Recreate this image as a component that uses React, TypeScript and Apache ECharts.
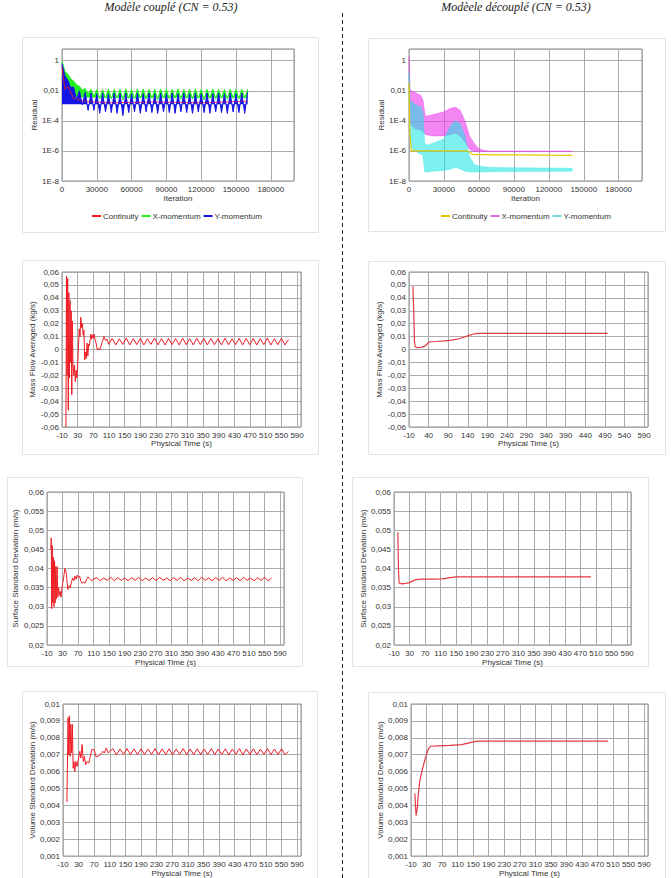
import React, { useEffect, useRef } from "react";
import * as echarts from "echarts";

const W = 671;
const H = 878;

const leftTitle = "Modèle couplé (CN = 0.53)";
const rightTitle = "Modèele découplé (CN = 0.53)";
const legendNames = ["Continuity", "X-momentum", "Y-momentum"];
const residualTickLabels: Record<string, string> = { "-8": "1E-8", "-6": "1E-6", "-4": "1E-4", "-2": "0,01", "0": "1" };

// ---------- Residuals, coupled model (log10 of residual) ----------
const coupledIter = [0, 2500, 5000, 7500, 10000, 12500, 15000, 17500, 20000, 22500, 25000, 27500, 30000, 32500, 35000, 37500, 40000, 42500, 45000, 47500, 50000, 52500, 55000, 57500, 60000, 62500, 65000, 67500, 70000, 72500, 75000, 77500, 80000, 82500, 85000, 87500, 90000, 92500, 95000, 97500, 100000, 102500, 105000, 107500, 110000, 112500, 115000, 117500, 120000, 122500, 125000, 127500, 130000, 132500, 135000, 137500, 140000, 142500, 145000, 147500, 150000, 152500, 155000, 157500, 160000];
const coupledXLog = [-0.05, -0.7, -0.9, -1.2, -1.35, -1.6, -1.7, -1.95, -1.85, -2.2, -1.9, -2.4,
  -1.9, -2.55, -1.92, -2.5, -1.88, -2.55, -1.9, -2.5, -1.9, -2.6,
  -1.87, -2.5, -1.92, -2.55, -1.9, -2.5, -1.88, -2.55, -1.9, -2.5,
  -1.9, -2.6, -1.88, -2.5, -1.9, -2.55, -1.9, -2.5, -1.87, -2.55,
  -1.9, -2.5, -1.9, -2.55, -1.88, -2.5, -1.9, -2.6, -1.9, -2.5,
  -1.88, -2.55, -1.9, -2.5, -1.9, -2.55, -1.88, -2.5, -1.9, -2.55,
  -1.9, -2.5, -1.9];
const coupledYLog = [-0.2, -1.0, -1.3, -1.8, -1.75, -2.6, -2.0, -2.95, -2.1, -3.3, -2.15, -3.3,
  -2.2, -3.5, -2.15, -3.4, -2.2, -3.45, -2.15, -3.5, -2.2, -3.65,
  -2.15, -3.45, -2.2, -3.4, -2.15, -3.5, -2.2, -3.4, -2.15, -3.45,
  -2.2, -3.5, -2.15, -3.4, -2.2, -3.45, -2.15, -3.5, -2.2, -3.4,
  -2.15, -3.45, -2.2, -3.5, -2.15, -3.4, -2.2, -3.45, -2.15, -3.5,
  -2.2, -3.4, -2.15, -3.45, -2.2, -3.5, -2.15, -3.4, -2.2, -3.45,
  -2.15, -3.5, -2.1];
const coupledCIter = [0, 2500, 5000, 10000, 20000, 40000, 80000, 120000, 160000];
const coupledCLog = [-0.4, -1.9, -1.7, -2.5, -2.7, -2.8, -2.75, -2.8, -2.7];

// ---------- Residuals, decoupled model (log10 of residual envelopes) ----------
const decCIter = [0, 800, 2000, 12000, 30000, 50000, 55000, 140000];
const decCLog = [-1.5, -5.0, -6.0, -6.0, -6.0, -6.0, -6.25, -6.3];
const decXIter = [0, 1000, 2000, 5000, 10000, 12000, 14000, 20000, 30000, 36000, 40000, 44000, 48000, 52000, 56000, 60000, 64000, 68000, 140000];
const decXUpperLog = [0.3, -1.9, -2.0, -2.1, -2.3, -2.6, -3.7, -3.6, -3.4, -3.15, -3.1, -3.3, -4.0, -5.0, -5.5, -5.85, -5.95, -6.0, -6.0];
const decXLowerLog = [0.0, -4.0, -4.3, -4.5, -4.6, -4.7, -4.9, -5.0, -5.0, -4.9, -4.8, -5.0, -5.4, -5.9, -6.05, -6.05, -6.05, -6.05, -6.05];
const decYIter = [0, 1000, 2000, 5000, 10000, 12000, 13500, 16000, 20000, 30000, 36000, 40000, 44000, 48000, 52000, 56000, 60000, 70000, 140000];
const decYUpperLog = [-0.8, -2.6, -2.7, -2.9, -3.1, -3.4, -5.5, -5.6, -5.5, -5.2, -4.3, -4.0, -4.2, -5.0, -6.4, -6.9, -7.0, -7.1, -7.15];
const decYLowerLog = [-1.5, -5.5, -5.8, -6.0, -6.2, -6.3, -7.4, -7.4, -7.35, -7.3, -7.2, -7.1, -7.2, -7.35, -7.4, -7.4, -7.4, -7.38, -7.35];

// ---------- Physical-time series, coupled model ----------
const cycleTimes = [118, 127, 136, 145, 154, 163, 172, 181, 190, 199, 208, 217, 226, 235, 244, 253, 262, 271, 280, 289, 298, 307, 316, 325, 334, 343, 352, 361, 370, 379, 388, 397, 406, 415, 424, 433, 442, 451, 460, 469, 478, 487, 496, 505, 514, 523, 532, 541, 550, 559, 568];

const massFlowCoupledEarly: [number, number][] = [[0, -0.06], [1.5, 0.057], [3, -0.02], [4.5, 0.055], [6, -0.047], [7.5, 0.044], [9, -0.022], [10.5, 0.038], [12, -0.01], [13.5, 0.03], [15, -0.035], [16.5, 0.022], [18, -0.012], [20, -0.02], [22, -0.012], [24, -0.025], [26, -0.016], [28, -0.022], [30, -0.012], [32, 0.002], [34, 0.016], [36, 0.01], [38, 0.025], [40, 0.017], [42, 0.02], [44, 0.011], [46, 0.015], [48, -0.008], [50, -0.002], [52, -0.007], [54, 0.005], [56, -0.005], [58, 0.004], [60, 0.003], [62, 0.008], [64, 0.012], [66, 0.008], [68, 0.011], [70, 0.009], [72, 0.012], [74, 0.008], [77, 0.005], [80, 0.0], [83, 0.001], [86, -0.0005], [89, 0.002], [93, 0.006], [97, 0.01], [101, 0.007], [105, 0.008], [109, 0.004]];
const massFlowCoupledCycle = [
  0.0085, 0.0035, 0.0082, 0.0040, 0.0088, 0.0035, 0.0084, 0.0038, 0.0087, 0.0035,
  0.0083, 0.0040, 0.0088, 0.0036, 0.0085, 0.0035, 0.0086, 0.0038, 0.0084, 0.0035,
  0.0088, 0.0037, 0.0083, 0.0035, 0.0087, 0.0038, 0.0085, 0.0035, 0.0086, 0.0037,
  0.0084, 0.0035, 0.0088, 0.0036, 0.0083, 0.0038, 0.0087, 0.0035, 0.0085, 0.0037,
  0.0086, 0.0035, 0.0084, 0.0038, 0.0088, 0.0035, 0.0083, 0.0037, 0.0087, 0.0035,
  0.0078];

const surfaceCoupledEarly: [number, number][] = [[0, 0.045], [1, 0.048], [2, 0.0295], [3.5, 0.046], [5, 0.031], [6.5, 0.043], [8, 0.03], [9.5, 0.042], [11, 0.031], [12.5, 0.0405], [14, 0.032], [16, 0.0405], [18, 0.0325], [20, 0.035], [22, 0.033], [24, 0.034], [26, 0.0325], [28, 0.0345], [30, 0.036], [32, 0.037], [34, 0.0385], [36, 0.04], [38, 0.0395], [40, 0.0385], [42, 0.036], [44, 0.0345], [47, 0.0355], [50, 0.035], [53, 0.0365], [56, 0.0375], [59, 0.0368], [62, 0.038], [65, 0.0372], [68, 0.0383], [71, 0.0376], [74, 0.038], [77, 0.0368], [80, 0.0362], [84, 0.0364], [88, 0.0362], [92, 0.0372], [96, 0.0378], [100, 0.0372], [104, 0.0368], [109, 0.0372]];
const surfaceCoupledCycle = [
  0.0376, 0.0368, 0.0375, 0.0369, 0.0377, 0.0368, 0.0376, 0.0369, 0.0375, 0.0368,
  0.0376, 0.0369, 0.0377, 0.0368, 0.0375, 0.0369, 0.0376, 0.0368, 0.0377, 0.0369,
  0.0375, 0.0368, 0.0376, 0.0369, 0.0377, 0.0368, 0.0375, 0.0369, 0.0376, 0.0368,
  0.0377, 0.0369, 0.0375, 0.0368, 0.0376, 0.0369, 0.0377, 0.0368, 0.0375, 0.0369,
  0.0376, 0.0368, 0.0377, 0.0369, 0.0375, 0.0368, 0.0376, 0.0369, 0.0377, 0.0368,
  0.0375];

const volumeCoupledEarly: [number, number][] = [[0, 0.0042], [3, 0.0092], [4.5, 0.007], [6.5, 0.0093], [8, 0.0069], [10, 0.0088], [12, 0.0071], [14, 0.0088], [16, 0.0062], [18, 0.0066], [20, 0.006], [23, 0.0066], [26, 0.0063], [30, 0.0068], [33, 0.0072], [36, 0.0068], [39, 0.0076], [42, 0.0066], [45, 0.0069], [48, 0.0064], [52, 0.0066], [56, 0.0065], [60, 0.0069], [64, 0.0073], [70, 0.0073], [74, 0.0069], [80, 0.0069], [86, 0.007], [92, 0.0072], [96, 0.0071], [101, 0.0074], [106, 0.0071], [110, 0.0072]];
const volumeCoupledCycle = [
  0.00735, 0.00700, 0.00733, 0.00702, 0.00736, 0.00700, 0.00734, 0.00701, 0.00735, 0.00700,
  0.00733, 0.00702, 0.00736, 0.00700, 0.00734, 0.00701, 0.00735, 0.00700, 0.00733, 0.00702,
  0.00736, 0.00700, 0.00734, 0.00701, 0.00735, 0.00700, 0.00733, 0.00702, 0.00736, 0.00700,
  0.00734, 0.00701, 0.00735, 0.00700, 0.00733, 0.00702, 0.00736, 0.00700, 0.00734, 0.00701,
  0.00735, 0.00700, 0.00733, 0.00702, 0.00736, 0.00700, 0.00734, 0.00701, 0.00735, 0.00700,
  0.00720];

// ---------- Physical-time series, decoupled model ----------
const massFlowDecoupled: [number, number][] = [[0, 0.049], [2, 0.03], [4, 0.006], [6, 0.002], [10, 0.0015], [20, 0.0017], [28, 0.0022], [34, 0.0035], [40, 0.0055], [44, 0.006], [60, 0.0062], [80, 0.0067], [100, 0.0073], [120, 0.0085], [140, 0.0105], [155, 0.012], [165, 0.0125], [200, 0.0125], [300, 0.0125], [400, 0.0125], [497, 0.0125]];
const surfaceDecoupled: [number, number][] = [[0, 0.0495], [1.5, 0.04], [3, 0.0362], [10, 0.036], [20, 0.0361], [30, 0.0363], [38, 0.0367], [46, 0.0371], [60, 0.0372], [90, 0.0372], [115, 0.0373], [135, 0.0376], [150, 0.0378], [200, 0.0378], [300, 0.0378], [400, 0.0378], [497, 0.0378]];
const volumeDecoupled: [number, number][] = [[0, 0.0047], [1.5, 0.004], [3, 0.0034], [6, 0.0038], [9, 0.0047], [13, 0.0055], [20, 0.0062], [27, 0.0068], [34, 0.0073], [40, 0.0075], [60, 0.00752], [90, 0.00755], [120, 0.0076], [140, 0.0077], [160, 0.0078], [200, 0.0078], [300, 0.0078], [400, 0.0078], [497, 0.0078]];

// ---------------------------------------------------------------
const FONT = 'Arial, "Liberation Sans", sans-serif';
const TXT = "#333";
const GRIDLINE = "#ababab";
const TIME_SHIFT = 10; // time axis starts at -10 s
const RED_L = "#ee1c24";
const RED_R = "#e23a44";

const pairs = (xs: number[], ys: number[]) => xs.map((x, i) => [x, ys[i]]).filter((p) => p[1] !== undefined);
const timeSeries = (early: [number, number][], times: number[] = [], vals: number[] = []) =>
  [...early, ...times.map((t, i) => [t, vals[i]] as [number, number])].map(([t, v]) => [t + TIME_SHIFT, v]);
const decimalLabel = (v: number) => String(Number(v.toFixed(4))).replace(".", ",");

const labelStyle = { fontSize: 8, color: TXT, fontFamily: FONT };

function residualX(gridIndex: number) {
  return {
    type: "value", gridIndex, min: 0, max: 200000, interval: 30000,
    name: "Iteration", nameLocation: "middle", nameGap: 13, nameTextStyle: labelStyle,
    axisLine: { show: false }, axisTick: { show: false },
    splitLine: { show: true, lineStyle: { color: GRIDLINE, width: 1 } },
    axisLabel: { ...labelStyle, margin: 4, formatter: (v: number) => (v > 180000 ? "" : String(v)) },
  };
}
function timeX(gridIndex: number, interval: number, nameGap: number) {
  return {
    type: "value", gridIndex, min: 0, max: 610, interval,
    name: "Physical Time (s)", nameLocation: "middle", nameGap, nameTextStyle: labelStyle,
    axisLine: { show: false }, axisTick: { show: false },
    splitLine: { show: true, lineStyle: { color: GRIDLINE, width: 1 } },
    axisLabel: { ...labelStyle, margin: 4, formatter: (v: number) => (v > 600 ? "" : String(v - TIME_SHIFT)) },
  };
}
function residualY(gridIndex: number, nameGap: number) {
  return {
    type: "value", gridIndex, min: -8, max: 0.78, interval: 2,
    name: "Residual", nameLocation: "middle", nameGap, nameTextStyle: labelStyle,
    axisLine: { show: false }, axisTick: { show: false },
    splitLine: { show: true, lineStyle: { color: GRIDLINE, width: 1 } },
    axisLabel: { ...labelStyle, margin: 3, formatter: (v: number) => residualTickLabels[String(Math.round(v * 100) / 100)] ?? "" },
  };
}
function decimalY(gridIndex: number, name: string, min: number, max: number, interval: number, nameGap: number) {
  return {
    type: "value", gridIndex, min, max, interval,
    name, nameLocation: "middle", nameGap, nameTextStyle: labelStyle,
    axisLine: { show: false }, axisTick: { show: false },
    splitLine: { show: true, lineStyle: { color: GRIDLINE, width: 1 } },
    axisLabel: { ...labelStyle, margin: 3, formatter: decimalLabel },
  };
}

function lineSeries(name: string, idx: number, data: number[][], color: string, width: number, extra: any = {}) {
  return {
    type: "line", name, xAxisIndex: idx, yAxisIndex: idx, data,
    showSymbol: false, symbol: "none", silent: true,
    lineStyle: { color, width }, itemStyle: { color }, ...extra,
  };
}

// A residual band (between lower and upper envelopes), drawn as one polygon through the axes' scales.
function bandSeries(name: string, idx: number, iters: number[], lower: number[], upper: number[], color: string, fill: string) {
  return {
    type: "custom", name, xAxisIndex: idx, yAxisIndex: idx, silent: true,
    data: iters.map((x, i) => [x, lower[i], upper[i]]),
    encode: { x: 0, y: [1, 2] },
    itemStyle: { color },
    renderItem: (params: any, api: any) => {
      if (params.dataIndexInside !== 0) return null;
      const n = params.dataInsideLength;
      const top: number[][] = [];
      const bottom: number[][] = [];
      for (let j = 0; j < n; j++) {
        top.push(api.coord([api.value(0, j), api.value(2, j)]));
        bottom.push(api.coord([api.value(0, j), api.value(1, j)]));
      }
      return {
        type: "polygon",
        shape: { points: top.concat(bottom.reverse()) },
        style: { fill, stroke: fill, lineWidth: 0.6 },
      };
    },
  };
}

function buildOption(): any {
  const gridBox = (left: number, top: number, width: number, height: number) => ({
    left, top, width, height, show: true, backgroundColor: "#fff", borderColor: "#8c8c8c", borderWidth: 1,
  });
  const grids = [
    gridBox(62, 49, 232, 132),
    gridBox(409, 49, 233, 132),
    gridBox(62, 272, 239, 155),
    gridBox(409, 272, 239, 155),
    gridBox(47, 492, 237, 153),
    gridBox(394, 492, 237, 153),
    gridBox(63, 704, 238, 153),
    gridBox(411, 704, 237, 153),
  ];
  const xAxis = [
    residualX(0), residualX(1),
    timeX(2, 40, 12), timeX(3, 50, 12),
    timeX(4, 40, 13), timeX(5, 40, 13),
    timeX(6, 40, 12), timeX(7, 40, 12),
  ];
  const yAxis = [
    residualY(0, 21), residualY(1, 22),
    decimalY(2, "Mass Flow Averaged (kg/s)", -0.06, 0.06, 0.01, 21),
    decimalY(3, "Mass Flow Averaged (kg/s)", -0.06, 0.06, 0.01, 21),
    decimalY(4, "Surface Standard Deviation (m/s)", 0.02, 0.06, 0.005, 28),
    decimalY(5, "Surface Standard Deviation (m/s)", 0.02, 0.06, 0.005, 23),
    decimalY(6, "Volume Standard Deviation (m/s)", 0.001, 0.01, 0.001, 22),
    decimalY(7, "Volume Standard Deviation (m/s)", 0.001, 0.01, 0.001, 23),
  ];
  const decNames = legendNames.map((n) => n + " (découplé)");
  const series = [
    lineSeries("Continuity", 0, pairs(coupledCIter, coupledCLog), "#ff1a1a", 0.8),
    lineSeries("X-momentum", 0, pairs(coupledIter, coupledXLog), "#22ee22", 1, { areaStyle: { origin: -2.45, color: "#22ee22", opacity: 1 } }),
    lineSeries("Y-momentum", 0, pairs(coupledIter, coupledYLog), "#1414e6", 1, { areaStyle: { origin: -2.9, color: "#1414e6", opacity: 1 } }),
    lineSeries(decNames[0], 1, pairs(decCIter, decCLog), "#e6c800", 1.2),
    bandSeries(decNames[1], 1, decXIter, decXLowerLog, decXUpperLog, "#e070e0", "rgba(238,60,238,0.62)"),
    bandSeries(decNames[2], 1, decYIter, decYLowerLog, decYUpperLog, "#70e0e0", "rgba(20,228,228,0.55)"),
    lineSeries("mass-coupled", 2, timeSeries(massFlowCoupledEarly, cycleTimes, massFlowCoupledCycle), RED_L, 1),
    lineSeries("mass-decoupled", 3, timeSeries(massFlowDecoupled), RED_R, 1.2),
    lineSeries("surface-coupled", 4, timeSeries(surfaceCoupledEarly, cycleTimes, surfaceCoupledCycle), RED_L, 1),
    lineSeries("surface-decoupled", 5, timeSeries(surfaceDecoupled), RED_R, 1.2),
    lineSeries("volume-coupled", 6, timeSeries(volumeCoupledEarly, cycleTimes, volumeCoupledCycle), RED_L, 1),
    lineSeries("volume-decoupled", 7, timeSeries(volumeDecoupled), RED_R, 1.2),
  ];
  const legendBase = {
    orient: "horizontal", top: 207, itemWidth: 9, itemHeight: 2, itemGap: 3, icon: "rect",
    selectedMode: false, textStyle: { ...labelStyle, padding: [0, 0, 0, -3] },
  };
  const legend = [
    { ...legendBase, left: 87, data: legendNames },
    { ...legendBase, left: 436, data: decNames, formatter: (n: string) => n.split(" (")[0] },
  ];
  const boxes = [
    [22, 37, 296, 195], [368, 38, 297, 193],
    [22, 260, 296, 194], [368, 261, 297, 193],
    [7, 477, 295, 189], [352, 477, 296, 189],
    [22, 691, 295, 200], [368, 692, 297, 200],
  ];
  const titleStyle = { fontSize: 12, fontStyle: "italic", fontFamily: '"Liberation Serif", "Times New Roman", serif', fill: "#222", align: "center", verticalAlign: "middle" };
  const graphic = [
    ...boxes.map((b) => ({
      type: "rect", silent: true, z: -10,
      shape: { x: b[0] + 0.5, y: b[1] + 0.5, width: b[2], height: b[3] },
      style: { fill: "#fff", stroke: "#e3e3e3", lineWidth: 1 },
    })),
    {
      type: "line", silent: true, z: 50,
      shape: { x1: 342.5, y1: 13, x2: 342.5, y2: 878 },
      style: { stroke: "#222", lineWidth: 1, lineDash: [4, 3] },
    },
    { type: "text", silent: true, z: 50, x: 171, y: 7, style: { text: leftTitle, ...titleStyle } },
    { type: "text", silent: true, z: 50, x: 516, y: 7, style: { text: rightTitle, ...titleStyle } },
  ];
  return { animation: false, backgroundColor: "#fff", grid: grids, xAxis, yAxis, series, legend, graphic };
}

export default function App() {
  const ref = useRef<HTMLDivElement>(null);
  useEffect(() => {
    if (!ref.current) return;
    const chart = echarts.init(ref.current, undefined, { renderer: "svg", width: W, height: H });
    chart.setOption(buildOption());
    return () => chart.dispose();
  }, []);
  return <div ref={ref} style={{ position: "fixed", left: 0, top: 0, width: W, height: H, background: "#fff" }} />;
}
